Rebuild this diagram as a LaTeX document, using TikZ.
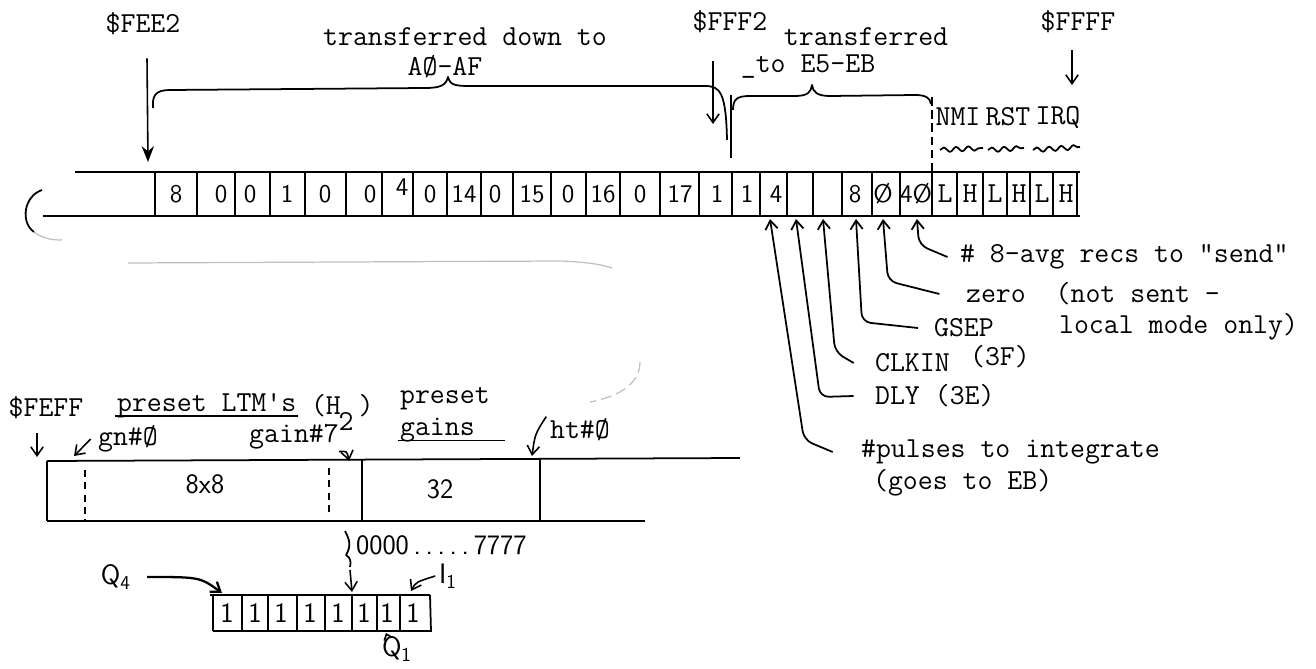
\documentclass[tikz,border=0pt]{standalone}
\usepackage{fontspec}
\usetikzlibrary{arrows.meta,decorations.pathmorphing}

\begin{document}
\begin{tikzpicture}[
    x=0.02cm, y=-0.02cm,
    tt/.style={font=\fontsize{16.5}{18}\selectfont\ttfamily, inner sep=1pt},
    hw/.style={font=\fontsize{16}{18}\selectfont\sffamily, inner sep=1pt},
    hwk/.style={font=\fontsize{14.5}{16}\selectfont\sffamily, inner sep=1pt},
    riga/.style={black, line width=1pt},
    graffa/.style={black, line width=1pt, line join=round},
    frec/.style={black, line width=0.9pt, -{Straight Barb[length=5pt, width=7pt]}},
    guida/.style={black, line width=1pt, rounded corners=5pt, -{Straight Barb[length=5pt, width=7pt]}},
    onda/.style={black, line width=1pt, decorate, decoration={snake, amplitude=1.3pt, segment length=7pt}},
    matita/.style={black!25, line width=0.7pt},
  ]
  \useasboundingbox (0,0) rectangle (1316,669);

  % ---- geometria --------------------------------------------------------------
  % unita' = pixel, asse y verso il basso;  riga alta fra y=172 e y=216

  % ---- indirizzi in alto ------------------------------------------------------
  \node[tt] (fee2) at (143,24)   {\$FEE2};
  \node[tt] (fff2) at (730,22)   {\$FFF2};
  \node[tt] (ffff) at (1078,22)  {\$FFFF};

  \coordinate (t_fee2) at (148,162);
  \coordinate (t_fff2) at (713,124);
  \coordinate (t_ffff) at (1072,85);
  \draw[black, line width=0.9pt, -{Stealth[length=9pt, width=7pt]}]
        ([shift={(4,21)}]fee2.south) -- (t_fee2);
  \draw[frec] ([shift={(-17,26)}]fff2.south) -- (t_fff2);
  \draw[frec] ([shift={(-6,15)}]ffff.south) -- (t_ffff);

  % ---- graffe dei trasferimenti -----------------------------------------------
  \node[tt] (trA)  at (465,37) {transferred down to};
  \node[tt] (trA2) at (445,67) {AØ-AF};
  \node[tt] (trB)  at (866,37) {transferred};
  \node[tt] (trB2) at (808,67) {\_to E5-EB};

  \draw[graffa] (153,108) .. controls (152,95) and (156,90) .. (170,90) -- (425,88)
                .. controls (441,88) and (446,85) .. (448,77)
                .. controls (450,85) and (455,86) .. (470,86) -- (705,86)
                .. controls (720,86) and (726,92) .. (727,140);
  \draw[graffa] (731,95) -- (731,158);
  \draw[graffa] (733,110) .. controls (733,99) and (737,96) .. (750,96) -- (795,96)
                .. controls (808,96) and (811,92) .. (812,85)
                .. controls (813,92) and (817,96) .. (830,96) -- (915,95)
                .. controls (926,95) and (930,98) .. (931,104);

  % ---- vettori NMI / RST / IRQ ------------------------------------------------
  \node[tt] (nmi) at (958,117)  {NMI};
  \node[tt] (rst) at (1008,117) {RST};
  \node[tt] (irq) at (1058,117) {IRQ};
  \draw[onda] (940,150) -- (983,148);
  \draw[onda] (988,150) -- (1024,148);
  \draw[onda] (1033,150) -- (1080,147);
  \draw[riga, dash pattern=on 5pt off 2.5pt] (932,97) -- (932,172);

  % ---- riga di memoria ---------------------------------------------------------
  \draw[riga] (75,172) -- (1080,172);
  \draw[riga] (43,216) -- (1080,216);
  \draw[riga] (155,172) -- (155,216)  (197,172) -- (197,216)  (235,172) -- (235,216)
              (270,172) -- (270,216)  (305,172) -- (305,216)  (346,172) -- (346,216)
              (382,172) -- (382,216)  (413,172) -- (413,216)  (447,172) -- (447,216)
              (481,172) -- (481,216)  (513,172) -- (513,216)  (551,172) -- (551,216)
              (586,172) -- (586,216)  (620,172) -- (620,216)  (660,172) -- (660,216)
              (699,172) -- (699,216)  (732,172) -- (732,216)  (760,172) -- (760,216)
              (787,172) -- (787,216)  (813,172) -- (813,216)  (842,172) -- (842,216)
              (872,172) -- (872,216)  (900,172) -- (900,216)  (932,172) -- (932,216)
              (957,172) -- (957,216)  (983,172) -- (983,216)  (1007,172) -- (1007,216)
              (1030,172) -- (1030,216) (1053,172) -- (1053,216) (1077,172) -- (1077,216);
  \draw[riga] (42,190) .. controls (24,196) and (20,222) .. (34,232);   % parentesi

  % valori scritti a mano
  \node[hwk] (c01) at (176,194) {8};
  \node[hwk] (c02) at (221,194) {0};
  \node[hwk] (c03) at (250,194) {0};
  \node[hwk] (c04) at (287,194) {1};
  \node[hwk] (c05) at (325,194) {0};
  \node[hwk] (c06) at (370,194) {0};
  \node[hwk] (c07) at (402,187) {4};
  \node[hwk] (c08) at (430,194) {0};
  \node[hwk] (c09) at (464,194) {14};
  \node[hwk] (c10) at (495,194) {0};
  \node[hwk] (c11) at (532,194) {15};
  \node[hwk] (c12) at (568,194) {0};
  \node[hwk] (c13) at (603,194) {16};
  \node[hwk] (c14) at (640,194) {0};
  \node[hwk] (c15) at (680,194) {17};
  \node[hwk] (c16) at (717,194) {1};
  \node[hwk] (c17) at (747,194) {1};
  \node[hwk] (c18) at (776,194) {4};
  \node[hwk] (c21) at (855,194) {8};
  \node[hwk] (c22) at (883,194) {Ø};
  \node[hwk] (c23) at (916,194) {4Ø};
  % livelli dei vettori (a macchina)
  \node[tt] (c24) at (945,194)  {L};
  \node[tt] (c25) at (970,194)  {H};
  \node[tt] (c26) at (995,194)  {L};
  \node[tt] (c27) at (1019,194) {H};
  \node[tt] (c28) at (1042,194) {L};
  \node[tt] (c29) at (1066,194) {H};

  % ---- etichette dei parametri -------------------------------------------------
  \node[tt, anchor=west] (lsend)  at (958,257)  {\# 8-avg recs to “send”};
  \node[tt, anchor=west] (lzero)  at (964,294)  {zero\ \ (not sent -};
  \node[tt, anchor=west] (llocal) at (1057,327) {local mode only)};
  \node[tt, anchor=west] (lgsep)  at (932,328)  {GSEP};
  \node[tt, anchor=west] (lclk)   at (873,363)  {CLKIN};
  \node[tt, anchor=west] (l3f)    at (968,357)  {(3F)};
  \node[tt, anchor=west] (ldly)   at (873,396)  {DLY (3E)};
  \node[tt, anchor=west] (lpuls)  at (859,452)  {\#pulses to integrate};
  \node[tt, anchor=west] (lgoes)  at (871,483)  {(goes to EB)};

  \coordinate (t_send) at (917,219);
  \coordinate (t_zero) at (883,219);
  \coordinate (t_gsep) at (856,219);
  \coordinate (t_clk)  at (823,219);
  \coordinate (t_dly)  at (796,219);
  \coordinate (t_puls) at (770,219);
  \draw[guida] ([xshift=-6pt]lsend.west)  -- (919,245) -- (t_send);
  \draw[guida] ([xshift=-14pt]lzero.west) -- (888,281) -- (t_zero);
  \draw[guida] ([xshift=-8pt]lgsep.west)  -- (862,322) -- (t_gsep);
  \draw[guida] ([xshift=-11pt]lclk.west)  -- (835,352) -- (t_clk);
  \draw[guida] ([xshift=-11pt]ldly.west)  -- (820,397) -- (t_dly);
  \draw[guida] ([xshift=-15pt]lpuls.west) -- (804,440) -- (t_puls);

  % ---- tratti a matita --------------------------------------------------------
  \draw[matita] (34,232) .. controls (42,238) and (50,240) .. (62,240);
  \draw[matita] (128,263) -- (560,261) .. controls (585,262) and (600,264) .. (612,268);
  \draw[matita, dash pattern=on 6pt off 3pt] (640,362) .. controls (640,382) and (622,396) .. (590,402);

  % ---- riga bassa $FEFF ---------------------------------------------------------
  \node[tt] (feff) at (46,408) {\$FEFF};
  \node[tt, anchor=west] (ltm)  at (115,406) {preset LTM's};
  \node[tt, anchor=west] (ltmh) at ([xshift=6pt]ltm.east) {(H};
  \node[tt] (ltmp) at (366,406) {)};
  \node[tt] (h2)   at (346,421) {2};
  \node[tt] (gain) at (294,437) {gain\#7};
  \node[tt, anchor=west] (pres)  at (398,399) {preset};
  \node[tt, anchor=west] (gains) at (398,430) {gains};
  \node[tt, anchor=west] (ht)    at (548,430) {ht\#Ø};
  \node[tt, anchor=west] (gn)    at (96,439)  {gn\#Ø};
  \draw[black, line width=0.8pt] ([yshift=-2.5pt]ltm.base west) -- ([yshift=-2.5pt]ltm.base east);
  \draw[black, line width=0.8pt] ([yshift=-3pt]gains.base west) -- ++(107,0);

  \coordinate (t_feff) at (37,457);
  \coordinate (t_gn)   at (74,456);
  \coordinate (t_gain) at (349,461);
  \coordinate (t_ht)   at (532,456);
  \draw[frec] ([shift={(-9,12)}]feff.south) -- (t_feff);
  \draw[frec] ([xshift=-3pt]gn.west) -- (t_gn);
  \draw[frec] ([xshift=-1pt]gain.south east) .. controls (347,451) .. (t_gain);
  \draw[frec] ([xshift=-1pt]ht.north west) .. controls (535,434) .. (t_ht);

  \draw[riga] (47,461) -- (740,458);
  \draw[riga] (47,521) -- (645,521);
  \draw[riga] (47,461) -- (47,521)  (362,460) -- (362,521)  (540,459) -- (540,521);
  \draw[riga, dash pattern=on 4pt off 3pt] (85,470) -- (85,521)  (329,468) -- (329,515);
  \node[hw] (b8x8) at (205,484) {8x8};
  \node[hw] (b32)  at (440,489) {32};

  % ---- un byte di guadagno ------------------------------------------------------
  \node[hw, anchor=west] (rng) at (354,545) {0000\,.\,.\,.\,.\,.\,7777};
  \draw[graffa] (345,531) .. controls (349,539) and (352,545) .. (346,555)
                .. controls (351,558) and (351,562) .. (350,567);
  \coordinate (t_bits) at (352,592);
  \draw[frec] (350,570) -- (t_bits);

  \draw[riga] (210,595) -- (430,595);
  \draw[riga] (213,631) -- (432,631);
  \draw[riga] (213,595) -- (213,631)  (242,595) -- (242,631)  (268,595) -- (268,631)
              (297,595) -- (297,631)  (325,595) -- (325,631)  (352,595) -- (352,631)
              (377,595) -- (377,631)  (400,595) -- (400,631)  (430,595) -- (431,631);
  \node[hw] (b1) at (227,613) {1};
  \node[hw] (b2) at (255,613) {1};
  \node[hw] (b3) at (281,613) {1};
  \node[hw] (b4) at (310,613) {1};
  \node[hw] (b5) at (338,613) {1};
  \node[hw] (b6) at (364,613) {1};
  \node[hw] (b7) at (387,613) {1};
  \node[hw] (b8) at (413,613) {1};

  \node[hw] (q4) at (116,577) {Q\textsubscript{4}};
  \node[hw] (i1) at (448,576) {I\textsubscript{1}};
  \node[hw] (q1) at (397,649) {Q\textsubscript{1}};
  \coordinate (t_q4) at (222,593);
  \coordinate (t_i1) at (411,591);
  \coordinate (t_q1) at (386,633);
  \draw[frec, line width=1.3pt] ([xshift=8pt]q4.east) .. controls (200,577) .. (t_q4);
  \draw[frec] ([xshift=-1pt]i1.west) .. controls (416,582) .. (t_i1);
  \draw[black, line width=0.9pt, -{Straight Barb[length=3pt, width=5pt]}]
        ([shift={(-10,1)}]q1.north) -- (t_q1);

\end{tikzpicture}
\end{document}
